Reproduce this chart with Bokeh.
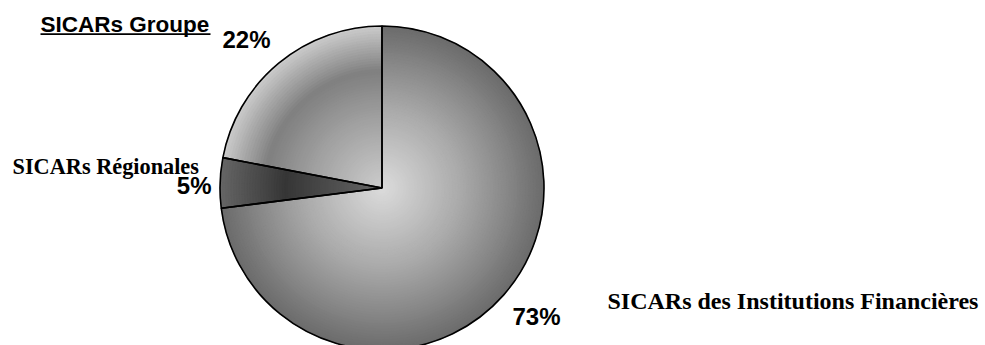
import numpy as np
from bokeh.plotting import figure
from bokeh.models import Range1d, ColumnDataSource
from bokeh.core.properties import value
from bokeh.embed import file_html
from bokeh.resources import INLINE

# ---- data ----
categories = ["SICARs des Institutions Financières", "SICARs Régionales", "SICARs Groupe"]
shares = [73, 5, 22]
pct_labels = ["73%", "5%", "22%"]

# ---- layout / style (pixel space, y measured upward) ----
W, H = 985, 345
CX, CY, R = 381.5, H - 187.5, 162.0
DY = 8  # baseline correction for text rendering

# gradient ramps per slice: (t, lightness) pairs, t = r / R
ramps = [
    [(0.0, 0.86), (0.5, 0.66), (1.0, 0.42)],
    [(0.0, 0.40), (0.6, 0.21), (1.0, 0.40)],
    [(0.0, 0.80), (0.45, 0.62), (0.72, 0.50), (1.0, 0.80)],
]

cat_pos = [(607, H - 308, "left", "Liberation Serif", "24px"),
           (12, H - 174, "left", "Liberation Serif", "22.3px"),
           (40, H - 31.7, "left", "Liberation Sans", "22.5px")]
pct_pos = [(512, H - 324, "left"), (211, H - 193, "right"), (222, H - 47, "left")]

p = figure(width=W, height=H, x_range=Range1d(0, W), y_range=Range1d(0, H),
           output_backend="svg", toolbar_location=None, min_border=0,
           x_axis_location=None, y_axis_location=None)
p.grid.visible = False
p.outline_line_color = None
p.background_fill_color = "white"
p.border_fill_color = "white"

vals = np.array(shares, dtype=float)
frac = vals / vals.sum()
cum = np.concatenate([[0], np.cumsum(frac)])
a_hi = np.pi / 2 - 2 * np.pi * cum[:-1]
a_lo = np.pi / 2 - 2 * np.pi * cum[1:]


def ramp_color(ramp, t):
    ts = [q[0] for q in ramp]
    ls = [q[1] for q in ramp]
    l = float(np.interp(t, ts, ls))
    g = int(round(l * 255))
    return "#%02x%02x%02x" % (g, g, g)


N = 60
gx, gy, gr, gs, ge, gc = [], [], [], [], [], []
for k in range(N):
    r = R * (N - k) / N
    t = (r - R / (2 * N)) / R
    for i in range(len(shares)):
        gx.append(CX); gy.append(CY); gr.append(r)
        gs.append(a_lo[i]); ge.append(a_hi[i])
        gc.append(ramp_color(ramps[i], t))

p.wedge(x="x", y="y", radius="r", start_angle="s", end_angle="e",
        fill_color="c", line_color="c", line_width=0.6,
        source=ColumnDataSource(dict(x=gx, y=gy, r=gr, s=gs, e=ge, c=gc)))

# slice outlines
p.wedge(x=[CX] * len(shares), y=[CY] * len(shares), radius=R,
        start_angle=list(a_lo), end_angle=list(a_hi),
        fill_alpha=0, line_color="black", line_width=1.6)

# category labels
for name, (x, y, al, font, size) in zip(categories, cat_pos):
    p.text(x=[x], y=[y + DY], text=[name], text_align=al, text_baseline="alphabetic",
           text_font=value(font), text_font_style="bold", text_font_size=size,
           text_color="black")

# underline of "SICARs Groupe"
p.segment(x0=[40], y0=[H - 33.6], x1=[210], y1=[H - 33.6], line_color="black", line_width=1.7)

# percentage labels
for lab, (x, y, al) in zip(pct_labels, pct_pos):
    p.text(x=[x], y=[y + DY], text=[lab], text_align=al, text_baseline="alphabetic",
           text_font=value("Liberation Sans"), text_font_style="bold", text_font_size="24px",
           text_color="black")

open("out.html", "w").write(file_html(p, INLINE))
